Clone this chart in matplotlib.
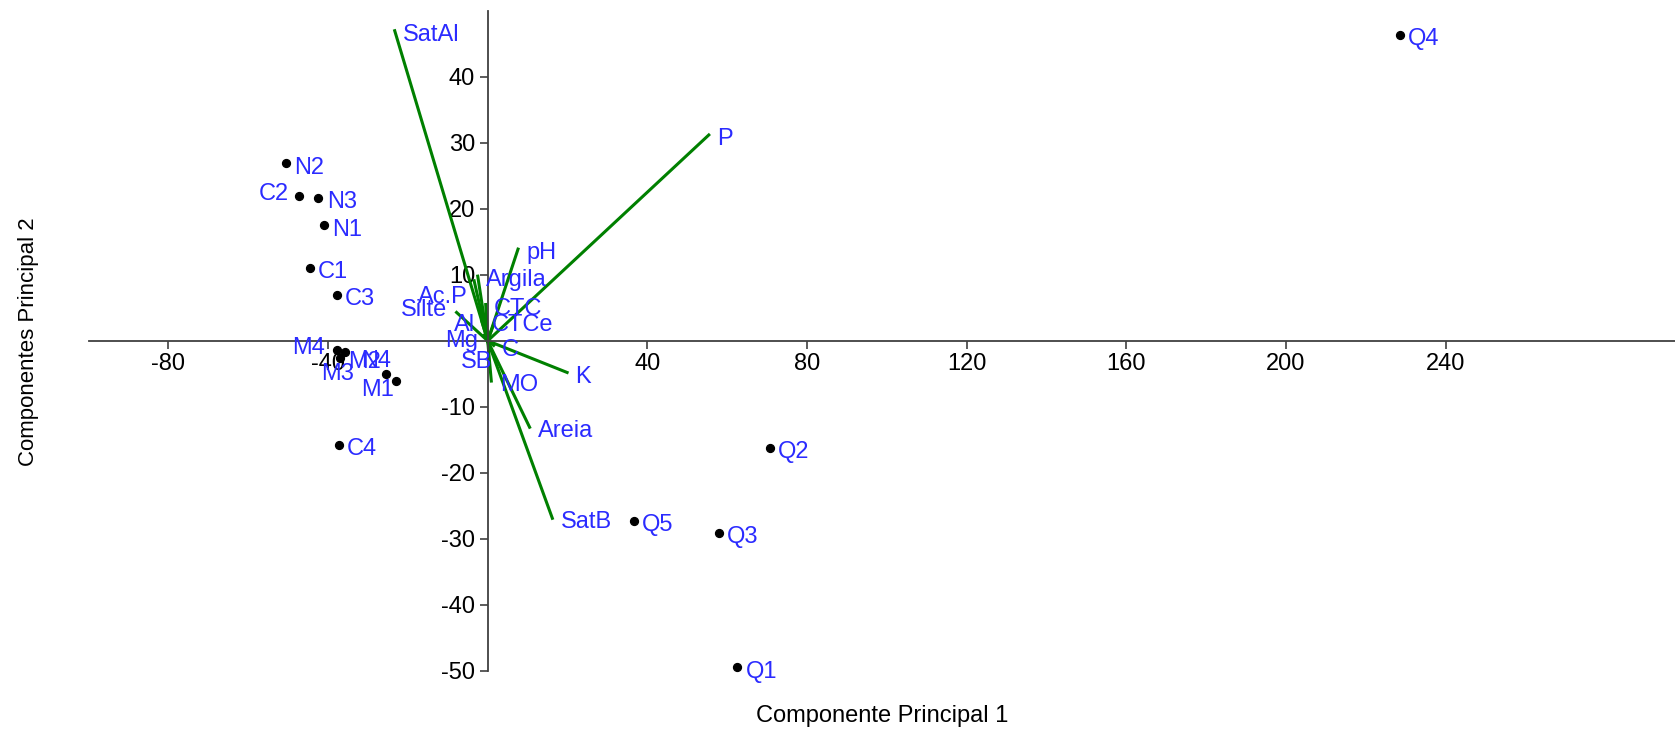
import matplotlib
matplotlib.use("Agg")
import matplotlib.pyplot as plt

plt.rcParams["font.family"] = ["Liberation Sans", "DejaVu Sans"]
plt.rcParams["axes.unicode_minus"] = False

# sample scores (PC1, PC2)
sample_names = ["Q4", "N2", "C2", "N3", "N1", "C1", "C3", "M4", "M3", "M2",
                "N4", "M1", "C4", "Q2", "Q5", "Q3", "Q1"]
sample_pc1 = [228.6, -50.5, -47.3, -42.4, -41.1, -44.6, -37.8, -37.7, -35.8, -37.1,
              -25.6, -23.1, -37.3, 70.7, 36.6, 57.9, 62.5]
sample_pc2 = [46.4, 26.9, 22.0, 21.6, 17.5, 11.1, 6.9, -1.45, -1.7, -2.6,
              -5.0, -6.1, -15.8, -16.2, -27.3, -29.1, -49.5]

# variable loadings (arrow tips)
var_names = ["SatAl", "P", "pH", "Argila", "Ac.P", "Silte", "CTC", "Al", "CTCe",
             "Mg", "C", "SB", "K", "MO", "Areia", "SatB"]
var_pc1 = [-23.3, 55.4, 7.6, -2.5, -3.4, -7.8, -0.5, -1.5, 1.5,
           -1.0, 1.5, 0.5, 19.9, 0.9, 10.5, 16.2]
var_pc2 = [47.0, 31.2, 13.9, 9.8, 9.1, 4.3, 5.5, 3.0, 2.5,
           0.8, -0.7, -1.5, -4.8, -6.1, -13.1, -26.9]

x_ticks = [-80, -40, 40, 80, 120, 160, 200, 240]
y_ticks = [-50, -40, -30, -20, -10, 10, 20, 30, 40]

LABEL_COLOR = "#2b2bff"
FS = 17
DEFAULT_OFFSET = (6, -3)
# label placements that differ from the default (offset points, ha)
label_offsets = {
    "C2": ((-7, 1.5), "right"),
    "M4": ((-8.6, 1.4), "right"),
    "M3": ((-17.3, -15.5), "left"),
    "N4": ((-17.5, 9), "left"),
    "M1": ((-24.7, -6.7), "left"),
    "Ac.P": ((-4.6, -11.5), "right"),
    "Silte": ((-6.7, 1.4), "right"),
    "Al": ((-5, -3.2), "right"),
    "Mg": ((-4.1, -3.6), "right"),
    "CTCe": ((-1.7, -0.8), "left"),
    "SB": ((-20.4, -8.2), "left"),
}


def put_label(ax, name, x, y):
    offset, ha = label_offsets.get(name, (DEFAULT_OFFSET, "left"))
    ax.annotate(name, (x, y), xytext=offset, textcoords="offset points",
                ha=ha, va="center", color=LABEL_COLOR, fontsize=FS,
                annotation_clip=False)


fig = plt.figure(figsize=(16.75, 7.29), dpi=100)
ax = fig.add_axes([0.0529, 0.080, 0.9471, 0.905])

for name, x, y in zip(var_names, var_pc1, var_pc2):
    ax.plot([0, x], [0, y], color="#008000", lw=2.2, zorder=2)
    put_label(ax, name, x, y)

ax.scatter(sample_pc1, sample_pc2, s=32, color="black", zorder=3, clip_on=False)
for name, x, y in zip(sample_names, sample_pc1, sample_pc2):
    put_label(ax, name, x, y)

ax.set_xlim(-100, 297.5)
ax.set_ylim(-50, 50)
ax.spines["left"].set_position(("data", 0))
ax.spines["bottom"].set_position(("data", 0))
ax.spines["right"].set_visible(False)
ax.spines["top"].set_visible(False)
for sp in ("left", "bottom"):
    ax.spines[sp].set_color("#404040")
    ax.spines[sp].set_linewidth(1.3)

ax.set_xticks(x_ticks)
ax.set_yticks(y_ticks)
ax.tick_params(axis="both", length=6, width=1.2, color="#404040",
               labelsize=FS, labelcolor="black")
ax.tick_params(axis="x", pad=3)
ax.tick_params(axis="y", pad=3)
ax.patch.set_visible(False)

fig.text(0.5266, 1 - 716 / 729, "Componente Principal 1", ha="center",
         va="center", fontsize=FS)
fig.text(29 / 1675, 1 - 342 / 729, "Componentes Principal 2", ha="center",
         va="center", rotation=90, fontsize=16)

fig.savefig("out.png", dpi=100)
